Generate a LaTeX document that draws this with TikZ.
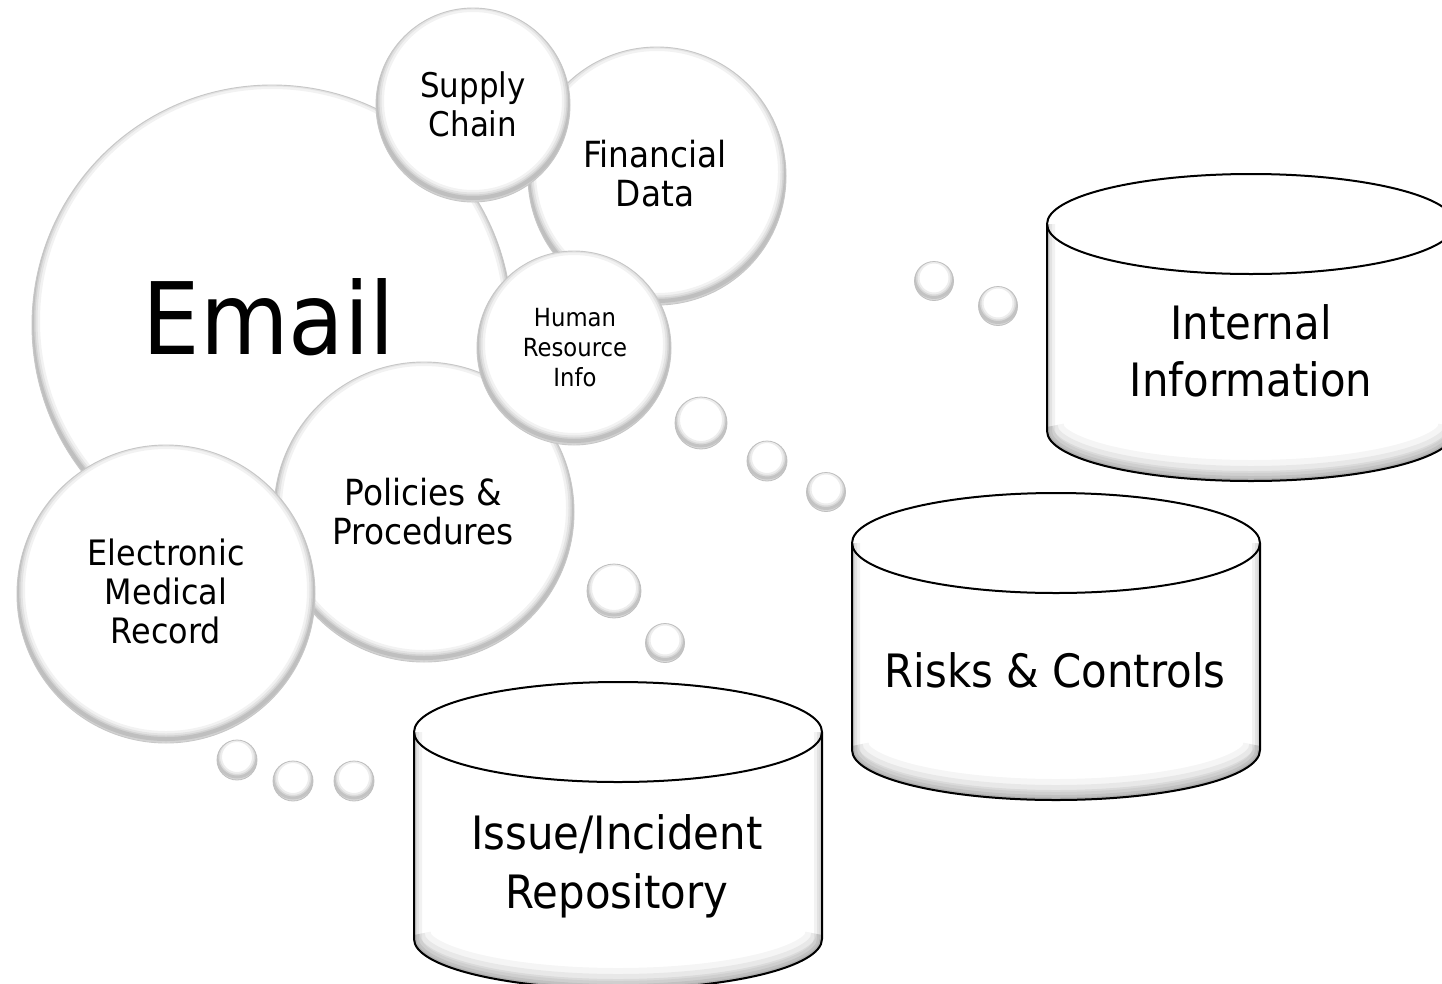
\documentclass[tikz,border=0pt]{standalone}
\usepackage{fontspec}
\setmainfont{DejaVu Sans}[FakeStretch=0.91]
\newcommand\fs[2]{\fontsize{#1}{#2}\selectfont}

% body outline of a storage drum: centre of top ellipse at (#1,#2)
\newcommand\drumbody[2]{(#1-204,#2) -- (#1-204,#2+207)
  arc[start angle=180,end angle=360,x radius=204pt,y radius=50pt]
  -- (#1+204,#2)
  arc[start angle=0,end angle=180,x radius=204pt,y radius=50pt] -- cycle}

\newcommand\drum[2]{%
  \begin{scope}
    \clip \drumbody{#1}{#2};
    \fill[white] (#1-260,#2-80) rectangle (#1+260,#2+300);
    \foreach \w/\o in {16/0.05,10/0.06,5/0.08,2/0.10}
      \draw[line width=\w pt, black, opacity=\o]
        (#1-204,#2) -- (#1-204,#2+207)
        arc[start angle=180,end angle=360,x radius=204pt,y radius=50pt]
        -- (#1+204,#2);
    \foreach \w/\o in {34/0.04,22/0.05,12/0.06}
      \draw[line width=\w pt, black, opacity=\o]
        (#1-204,#2+203)
        arc[start angle=180,end angle=360,x radius=204pt,y radius=50pt];
  \end{scope}
  \draw[line width=2pt, line join=round] \drumbody{#1}{#2};
  \draw[line width=2pt]
    (#1-204,#2) arc[start angle=180,end angle=360,x radius=204pt,y radius=50pt];
}

\tikzset{
  bubble/.style={circle, inner sep=0pt, minimum size=2*#1, fill=white,
    draw=black!22, line width=0.9pt,
    path picture={
      \foreach \w/\o in {16/0.05,11/0.06,7/0.07,4/0.09}
        \draw[line width=\w pt, black, opacity=\o]
          ([yshift=4pt]path picture bounding box.center) circle (#1 pt);
    }},
  droplet/.style={circle, inner sep=0pt, minimum size=2*#1, fill=white,
    draw=black!25, line width=0.8pt,
    path picture={
      \foreach \w/\o in {10/0.07,6/0.08,3/0.10}
        \draw[line width=\w pt, black, opacity=\o]
          ([yshift=3pt]path picture bounding box.center) circle (#1 pt);
    }},
  lbl/.style={align=center, inner sep=0pt},
}

\begin{document}
\begin{tikzpicture}[x=1pt,y=-1pt]
  \useasboundingbox (0,0) rectangle (1442,983);
  \fill[white] (0,0) rectangle (1442,983);

  % cluster of data sources
  \node[bubble=129] (fin)    at (657,176) {};
  \node[bubble=240] (email)  at (272,325) {};
  \node[bubble=97]  (supply) at (473,105) {};
  \node[bubble=150] (pol)    at (424,512) {};
  \node[bubble=97]  (hr)     at (574,348) {};
  \node[bubble=149] (emr)    at (166,594) {};

  \node[lbl, font=\fs{100}{110}] (email-l)  at (269,317) {Email};
  \node[lbl, font=\fs{34}{39}]   (supply-l) at (473,104) {Supply\\Chain};
  \node[lbl, font=\fs{36}{39}]   (fin-l)    at (655,174) {Financial\\Data};
  \node[lbl, font=\fs{25}{30}]   (hr-l)     at (575,348) {Human\\Resource\\Info};
  \node[lbl, font=\fs{36}{39}]   (pol-l)    at (423,512) {Policies \&\\Procedures};
  \node[lbl, font=\fs{35}{39}]   (emr-l)    at (166,591) {Electronic\\Medical\\Record};

  % thought droplets
  \node[droplet=26]   (d1) at (701,423) {};
  \node[droplet=20]   (d2) at (767,461) {};
  \node[droplet=19.5] (d3) at (826,492) {};
  \node[droplet=27]   (d4) at (614,591) {};
  \node[droplet=19.5] (d5) at (665,643) {};
  \node[droplet=20]   (d6) at (237,760) {};
  \node[droplet=20]   (d7) at (293,781) {};
  \node[droplet=20]   (d8) at (354,781) {};
  \node[droplet=19.5] (d9) at (934,281) {};
  \node[droplet=19.5] (d10) at (998,306) {};

  % repositories
  \drum{1251}{224}
  \drum{1056}{543}
  \drum{618}{732}

  \node[lbl, font=\fs{46}{57}] (internal) at (1251,351) {Internal\\Information};
  \node[lbl, font=\fs{46}{57}] (risks)    at (1055,670) {Risks \& Controls};
  \node[lbl, font=\fs{46}{59}] (issue)    at (617,866)  {Issue/Incident\\Repository};
\end{tikzpicture}
\end{document}
